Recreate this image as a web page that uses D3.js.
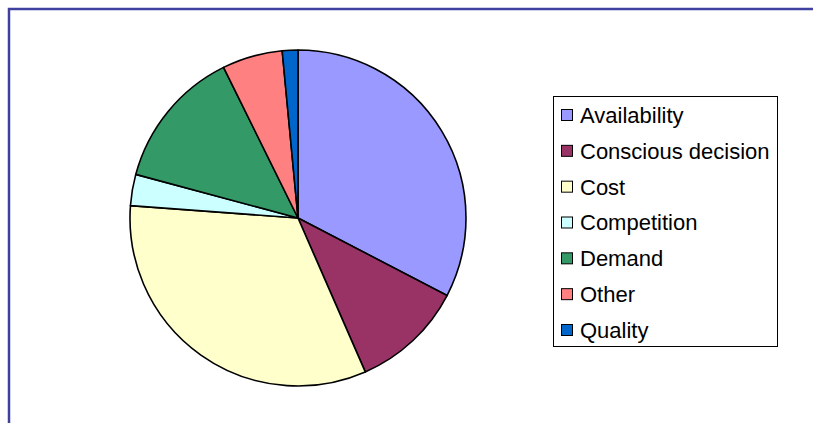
<!DOCTYPE html>
<html><head><meta charset="utf-8">
<script src="https://cdn.jsdelivr.net/npm/d3@7"></script>
<style>body{margin:0;background:#fff}svg{display:block}</style>
</head><body>
<script>
const categories = ["Availability","Conscious decision","Cost","Competition","Demand","Other","Quality"];
const values = [32.6, 10.8, 32.7, 3.0, 13.5, 5.8, 1.5];
const colors = ["#9999FF","#993366","#FFFFCC","#CCFFFF","#339966","#FF8080","#0066CC"];

const W = 813, H = 423;
const svg = d3.select("body").append("svg").attr("width", W).attr("height", H);

// frame
svg.append("path").attr("d", `M9,${H} V9 H${W}`).attr("fill","none")
  .attr("stroke","#4040A0").attr("stroke-width",2.5);

const data = categories.map((c,i)=>({cat:c, v:values[i], color:colors[i]}));
const pie = d3.pie().value(d=>d.v).sort(null);
const arc = d3.arc().innerRadius(0).outerRadius(168);
const g = svg.append("g").attr("transform","translate(298,218)");
g.selectAll("path").data(pie(data)).join("path")
  .attr("d", arc).attr("fill", d=>d.data.color)
  .attr("stroke","#000").attr("stroke-width",1.6).attr("stroke-linejoin","round");

// legend
const lg = svg.append("g");
lg.append("rect").attr("x",553.5).attr("y",96.5).attr("width",224).attr("height",250)
  .attr("fill","#fff").attr("stroke","#000").attr("stroke-width",1);
const y = d3.scalePoint().domain(categories).range([115,330]);
const items = lg.selectAll("g.item").data(data).join("g").attr("class","item")
  .attr("transform", d=>`translate(0,${y(d.cat)})`);
items.append("rect").attr("x",561.5).attr("y",-5.5).attr("width",11).attr("height",11)
  .attr("fill",d=>d.color).attr("stroke","#000").attr("stroke-width",1);
items.append("text").attr("x",580).attr("y",0).attr("dy","0.36em")
  .attr("font-family","Liberation Sans, Arial, sans-serif").attr("font-size",22)
  .attr("fill","#000").text(d=>d.cat);
</script>
</body></html>
